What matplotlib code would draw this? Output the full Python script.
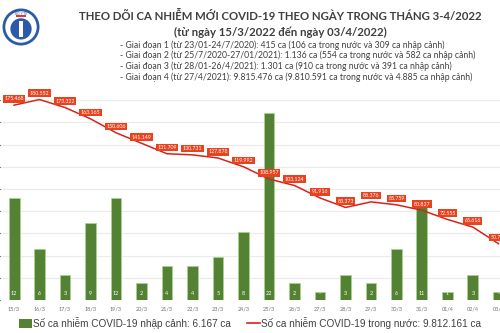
import matplotlib
matplotlib.use("Agg")
import matplotlib.pyplot as plt
from matplotlib.patches import Circle, Patch, Rectangle
from matplotlib.lines import Line2D

plt.rcParams['font.family'] = ['Lato', 'DejaVu Sans']

# du lieu
days = ['15/3', '16/3', '17/3', '18/3', '19/3', '20/3', '21/3', '22/3', '23/3', '24/3',
        '25/3', '26/3', '27/3', '28/3', '29/3', '30/3', '31/3', '01/4', '02/4', '03/4']
imported = [12, 6, 3, 9, 12, 2, 4, 4, 5, 8, 22, 2, 1, 3, 2, 6, 11, 1, 3, 1]
imported_labels = ['12', '6', '3', '9', '12', '2', '4', '4', '5', '8',
                   '22', '2', '-', '3', '2', '6', '11', '1', '3', '-']
domestic = [175468, 180552, 173322, 163165, 150606, 141149, 131709, 130731, 127878, 119992,
            108957, 103124, 91916, 83373, 88376, 85759, 80827, 72555, 65616, 50728]

title = 'THEO DÕI CA NHIỄM MỚI COVID-19 THEO NGÀY TRONG THÁNG 3-4/2022'
subtitle = '(từ ngày 15/3/2022 đến ngày 03/4/2022)'
notes = ['- Giai đoạn 1 (từ 23/01-24/7/2020): 415 ca (106 ca trong nước và 309 ca nhập cảnh)',
         '- Giai đoạn 2 (từ 25/7/2020-27/01/2021): 1.136 ca (554 ca trong nước và 582 ca nhập cảnh)',
         '- Giai đoạn 3 (từ 28/01-26/4/2021): 1.301 ca (910 ca trong nước và 391 ca nhập cảnh)',
         '- Giai đoạn 4 (từ 27/4/2021): 9.815.476 ca (9.810.591 ca trong nước và 4.885 ca nhập cảnh)']
legend_bar = 'Số ca nhiễm COVID-19 nhập cảnh: 6.167 ca'
legend_line = 'Số ca nhiễm COVID-19 trong nước: 9.812.161 ca'

GREEN = '#548235'
RED = '#d8231b'
BOX = '#e8421f'
GRAY = '#404040'

fig = plt.figure(figsize=(5, 3.33), dpi=100)
fig.patch.set_facecolor('white')

x = list(range(len(days)))

# truc nen: luoi
ax = fig.add_axes([0, 0.099, 1, 0.667])
ax.set_xlim(-0.55, 19.06)
ax.set_ylim(0, 200000)
ax.set_yticks(range(0, 200000, 20000))
ax.yaxis.grid(True, color='#ebebeb', lw=0.8)
ax.set_axisbelow(True)
ax.tick_params(axis='y', left=False, labelleft=False)
ax.set_xticks(x)
ax.set_xticklabels(days, fontsize=4, color='#707070')
ax.tick_params(axis='x', length=0, pad=5)
for s in ax.spines.values():
    s.set_visible(False)

# cot: nhap canh
axb = ax.twinx()
axb.set_ylim(0, 26.1)
bars = axb.bar(x, imported, width=0.43, color=GREEN, edgecolor='#a9d18e', linewidth=0.6)
for rect, lab in zip(bars, imported_labels):
    axb.annotate(lab, xy=(rect.get_x() + rect.get_width() / 2, 0), xytext=(0, 3),
                 textcoords='offset points', ha='center', va='bottom',
                 fontsize=4, color='white')
axb.set_yticks([])
for s in axb.spines.values():
    s.set_visible(False)

# duong: trong nuoc
axl = ax.twinx()
axl.set_ylim(0, 200000)
axl.plot(x, domestic, color=RED, lw=1.1)
for xi, v in zip(x, domestic):
    axl.annotate('{:,}'.format(v).replace(',', '.'), xy=(xi, v), xytext=(0, 4.5),
                 textcoords='offset points', ha='center', va='center',
                 fontsize=3.8, color='white',
                 bbox=dict(boxstyle='square,pad=0.25', fc=BOX, ec='none'))
axl.set_yticks([])
for s in axl.spines.values():
    s.set_visible(False)

# tieu de
fig.text(0.56, 1 - 16 / 333, title, ha='center', va='center', fontsize=8.2,
         fontweight='bold', color=GRAY)
fig.text(0.56, 1 - 32 / 333, subtitle, ha='center', va='center', fontsize=8.2,
         fontweight='bold', color=GRAY)
for i, t in enumerate(notes):
    fig.text(0.24, 1 - (45 + i * 10.7) / 333, t, ha='left', va='center',
             fontsize=6.2, color=GRAY)

# logo bo y te (don gian)
lax = fig.add_axes([0.004, 1 - 46 / 333, 0.076, 38 / 333])
lax.set_xlim(0, 1)
lax.set_ylim(0, 1)
lax.axis('off')
lax.add_patch(Circle((0.5, 0.5), 0.45, fc='white', ec='#2b5aa8', lw=2.0))
lax.add_patch(Circle((0.5, 0.45), 0.28, fc='#2b5aa8', ec='none'))
lax.add_patch(Rectangle((0.46, 0.25), 0.08, 0.42, fc='white', ec='none'))
lax.add_patch(Rectangle((0.38, 0.76), 0.24, 0.05, fc='#e03a2f', ec='none'))
lax.text(0.5, 0.86, 'BỘ Y TẾ', ha='center', va='center', fontsize=2.3, color='#2b5aa8')

# chu thich
handles = [Patch(fc=GREEN, ec='none'), Line2D([], [], color=RED, lw=1.2)]
fig.legend(handles, [legend_bar, legend_line], loc='center', ncol=2,
           bbox_to_anchor=(0.5, 1 - 323 / 333), frameon=False,
           prop={'family': ['Liberation Sans', 'DejaVu Sans'], 'size': 7.2},
           labelcolor=GRAY, handlelength=1.3, handleheight=0.9, handletextpad=0.1,
           columnspacing=1.6)

fig.savefig('out.png', dpi=100)
